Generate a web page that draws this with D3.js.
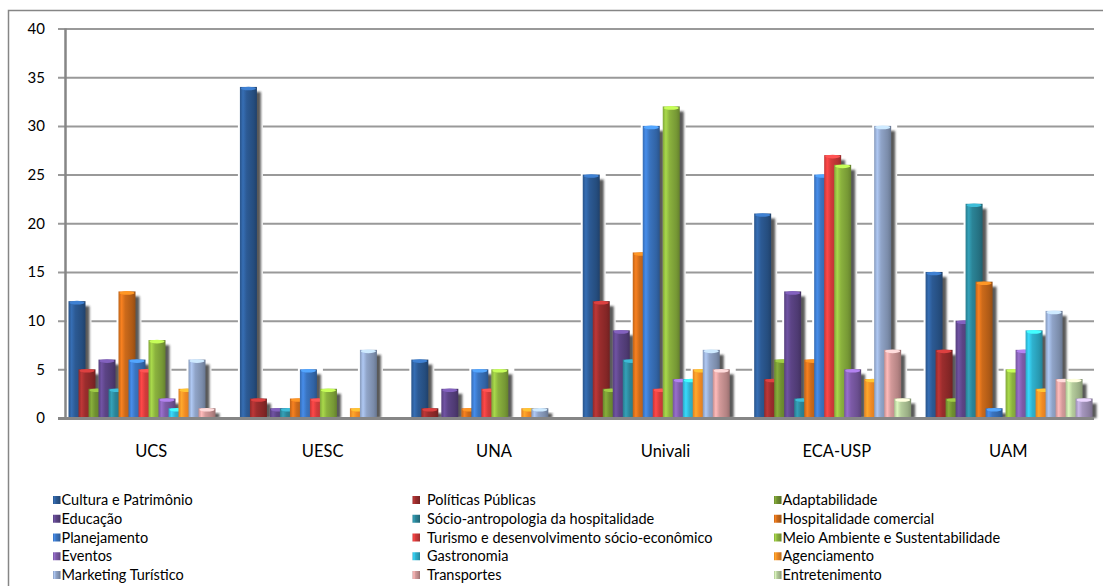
<!DOCTYPE html>
<html>
<head>
<meta charset="utf-8">
<script src="https://d3js.org/d3.v7.min.js"></script>
<style>
  body { margin: 0; background: #fff; }
  text { font-family: Lato, "Open Sans", sans-serif; fill: #000; }
  .tick-label { font-size: 15px; }
  .cat-label { font-size: 16.5px; }
  .legend-label { font-size: 14.5px; }
</style>
</head>
<body>
<svg width="1103" height="586"></svg>
<script>
const groups = ['UCS', 'UESC', 'UNA', 'Univali', 'ECA-USP', 'UAM'];
const seriesNames = [
  'Cultura e Patrimônio', 'Políticas Públicas', 'Adaptabilidade',
  'Educação', 'Sócio-antropologia da hospitalidade', 'Hospitalidade comercial',
  'Planejamento', 'Turismo e desenvolvimento sócio-econômico', 'Meio Ambiente e Sustentabilidade',
  'Eventos', 'Gastronomia', 'Agenciamento',
  'Marketing Turístico', 'Transportes', 'Entretenimento',
  '' // 16th series, not listed in the legend
];
const seriesColors = [
  '#2c5a94', '#9b2d2d', '#6f8f30', '#5c4486', '#2b8497', '#cc6a1a',
  '#3a74c0', '#d23b3b', '#8bb23e', '#7d5ba8', '#2fb2cf', '#f08a24',
  '#90a4c8', '#d39a9a', '#b5cc9c', '#a596be'
];
// values per university, in series order
const ucs     = [12, 5, 3, 6, 3, 13, 6, 5, 8, 2, 1, 3, 6, 1, 0, 0];
const uesc    = [34, 2, 0, 1, 1, 2, 5, 2, 3, 0, 0, 1, 7, 0, 0, 0];
const una     = [6, 1, 0, 3, 0, 1, 5, 3, 5, 0, 0, 1, 1, 0, 0, 0];
const univali = [25, 12, 3, 9, 6, 17, 30, 3, 32, 4, 4, 5, 7, 5, 0, 0];
const ecaUsp  = [21, 4, 6, 13, 2, 6, 25, 27, 26, 5, 0, 4, 30, 7, 2, 0];
const uam     = [15, 7, 2, 10, 22, 14, 1, 0, 5, 7, 9, 3, 11, 4, 4, 2];
const groupValues = [ucs, uesc, una, univali, ecaUsp, uam];
const yTicks = [0, 5, 10, 15, 20, 25, 30, 35, 40];

const svg = d3.select('svg');
const x0 = d3.scaleBand().domain(groups).range([65.5, 1094]);
const x1 = d3.scaleBand().domain(d3.range(seriesNames.length)).range([3, 163]);
const barW = x1.step() * 1.7;
const y = d3.scaleLinear().domain([0, 40]).range([418, 28.5]);

const defs = svg.append('defs');
seriesColors.forEach((c, i) => {
  const col = d3.color(c);
  const g = defs.append('linearGradient').attr('id', 'g' + i)
    .attr('x1', 0).attr('x2', 1).attr('y1', 0).attr('y2', 0);
  [[0, col.darker(0.2)], [0.18, col.brighter(0.55)], [0.4, col], [0.8, col.darker(0.45)], [1, col.darker(0.9)]]
    .forEach(s => g.append('stop').attr('offset', s[0]).attr('stop-color', s[1]));
});
defs.append('filter').attr('id', 'blur')
  .attr('x', '-50%').attr('y', '-10%').attr('width', '200%').attr('height', '120%')
  .append('feGaussianBlur').attr('stdDeviation', 1.3);

// outer chart border
svg.append('rect')
  .attr('x', 8.5).attr('y', 10.5).attr('width', 1120).attr('height', 600)
  .attr('fill', 'none').attr('stroke', '#868686').attr('stroke-width', 1.5);

// gridlines and y axis
const yAxis = d3.axisLeft(y).tickValues(yTicks).tickSize(-(1094 - 58)).tickPadding(13);
const yAxisG = svg.append('g').attr('transform', 'translate(58,0)').call(yAxis);
yAxisG.select('.domain').remove();
yAxisG.selectAll('.tick line').attr('stroke', '#999').attr('stroke-width', 2);
yAxisG.selectAll('.tick text').attr('class', 'tick-label').attr('x', -13);

const plot = svg.append('g');
const flat = [];
groupValues.forEach((vals, gi) => vals.forEach((v, si) => {
  if (v > 0) flat.push({ group: groups[gi], s: si, v: v });
}));

// white halo behind the bars (breaks the gridlines like the 3-D look)
plot.append('g').selectAll('rect').data(flat).join('rect')
  .attr('x', d => x0(d.group) + x1(d.s) - 2)
  .attr('y', d => y(d.v) - 2)
  .attr('width', barW + 8)
  .attr('height', d => y(0) - y(d.v) + 2)
  .attr('fill', '#fff');

const barG = plot.append('g').selectAll('g').data(flat).join('g');
barG.append('rect')
  .attr('x', d => x0(d.group) + x1(d.s) + 3)
  .attr('y', d => y(d.v) + 5)
  .attr('width', barW + 1)
  .attr('height', d => y(0) - y(d.v) - 5)
  .attr('fill', '#222').attr('opacity', 0.75)
  .attr('filter', 'url(#blur)');
barG.append('rect')
  .attr('x', d => x0(d.group) + x1(d.s))
  .attr('y', d => y(d.v))
  .attr('width', barW)
  .attr('height', d => y(0) - y(d.v))
  .attr('fill', d => 'url(#g' + d.s + ')');
barG.append('ellipse')
  .attr('cx', d => x0(d.group) + x1(d.s) + barW / 2)
  .attr('cy', d => y(d.v) + 1.5)
  .attr('rx', barW / 2 - 1)
  .attr('ry', 1.8)
  .attr('fill', d => d3.color(seriesColors[d.s]).brighter(1));

// axis lines
svg.append('line').attr('x1', 65.5).attr('x2', 65.5).attr('y1', 28.5).attr('y2', 419)
  .attr('stroke', '#868686').attr('stroke-width', 2.5);
svg.append('line').attr('x1', 58).attr('x2', 1094).attr('y1', 418.5).attr('y2', 418.5)
  .attr('stroke', '#868686').attr('stroke-width', 3);

// category labels
const xAxis = d3.axisBottom(x0).tickSize(0).tickPadding(27);
const xAxisG = svg.append('g').attr('transform', 'translate(0,418)').call(xAxis);
xAxisG.select('.domain').remove();
xAxisG.selectAll('.tick text').attr('class', 'cat-label');

// legend, 3 columns, row-major
const legendCols = [{ sw: 53, tx: 61.5 }, { sw: 412.5, tx: 427 }, { sw: 774, tx: 782.5 }];
const legendRow = d3.scaleLinear().domain([0, 4]).range([500, 575]);
const legendItems = seriesNames.map((n, i) => ({ name: n, i: i })).filter(d => d.name !== '');
const lg = svg.append('g').selectAll('g').data(legendItems).join('g')
  .attr('transform', d => `translate(0,${legendRow(Math.floor(d.i / 3))})`);
lg.append('rect')
  .attr('x', d => legendCols[d.i % 3].sw).attr('y', -4)
  .attr('width', 7.5).attr('height', 8)
  .attr('fill', d => 'url(#g' + d.i + ')');
lg.append('text')
  .attr('class', 'legend-label')
  .attr('x', d => legendCols[d.i % 3].tx)
  .attr('dy', '0.35em')
  .text(d => d.name);
</script>
</body>
</html>
